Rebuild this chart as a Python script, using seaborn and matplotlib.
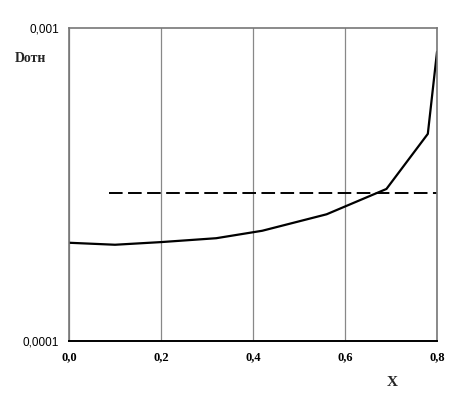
import matplotlib
matplotlib.use("Agg")
import matplotlib.pyplot as plt
import matplotlib.ticker as mticker
import seaborn as sns
import pandas as pd

# curve
x_vals = [0.0, 0.1, 0.2, 0.32, 0.42, 0.56, 0.69, 0.78, 0.8]
d_vals = [2.06e-4, 2.03e-4, 2.07e-4, 2.13e-4, 2.25e-4, 2.54e-4, 3.06e-4, 4.59e-4, 8.4e-4]
# dashed reference level
ref_x = [0.087, 0.8]
ref_d = [2.97e-4, 2.97e-4]
x_ticks = [0.0, 0.2, 0.4, 0.6, 0.8]
x_ticklabels = ["0,0", "0,2", "0,4", "0,6", "0,8"]
y_ticks = [1e-4, 1e-3]
y_ticklabels = ["0,0001", "0,001"]

df = pd.DataFrame({"x": x_vals, "d": d_vals})
df_ref = pd.DataFrame({"x": ref_x, "d": ref_d})

sns.set_style("white")
fig = plt.figure(figsize=(4.72, 3.96), dpi=100)
ax = fig.add_axes([0.1462, 0.1389, 0.7797, 0.7904])

sns.lineplot(data=df, x="x", y="d", color="black", linewidth=1.6, ax=ax)
sns.lineplot(data=df_ref, x="x", y="d", color="black", linewidth=1.4,
             linestyle=(0, (7, 2.8)), ax=ax)

ax.set_yscale("log")
ax.set_ylim(1e-4, 1e-3)
ax.set_xlim(0, 0.8)
ax.yaxis.set_major_locator(mticker.FixedLocator(y_ticks))
ax.yaxis.set_minor_locator(mticker.NullLocator())
ax.set_yticklabels(y_ticklabels, fontsize=8.5, family="Liberation Sans")
ax.set_xticks(x_ticks)
ax.set_xticklabels(x_ticklabels, fontsize=9, family="Liberation Serif",
                   fontweight="bold")
ax.tick_params(axis="both", length=3, width=0.8, direction="out", pad=4,
               colors="black")

ax.xaxis.grid(True, color="#888888", linewidth=0.9)
ax.yaxis.grid(False)

for side in ["left", "top", "right"]:
    ax.spines[side].set_color("#777777")
    ax.spines[side].set_linewidth(1.2)
ax.spines["bottom"].set_color("black")
ax.spines["bottom"].set_linewidth(1.4)

ax.set_xlabel("")
ax.set_ylabel("")
fig.text(15 / 472, 1 - 58 / 396, "Dотн", fontsize=10, fontweight="bold",
         family="Liberation Serif", va="center", ha="left")
fig.text(392 / 472, 1 - 382 / 396, "X", fontsize=11, fontweight="bold",
         family="Liberation Serif", va="center", ha="center")

fig.savefig("out.png", dpi=100, facecolor="white")
